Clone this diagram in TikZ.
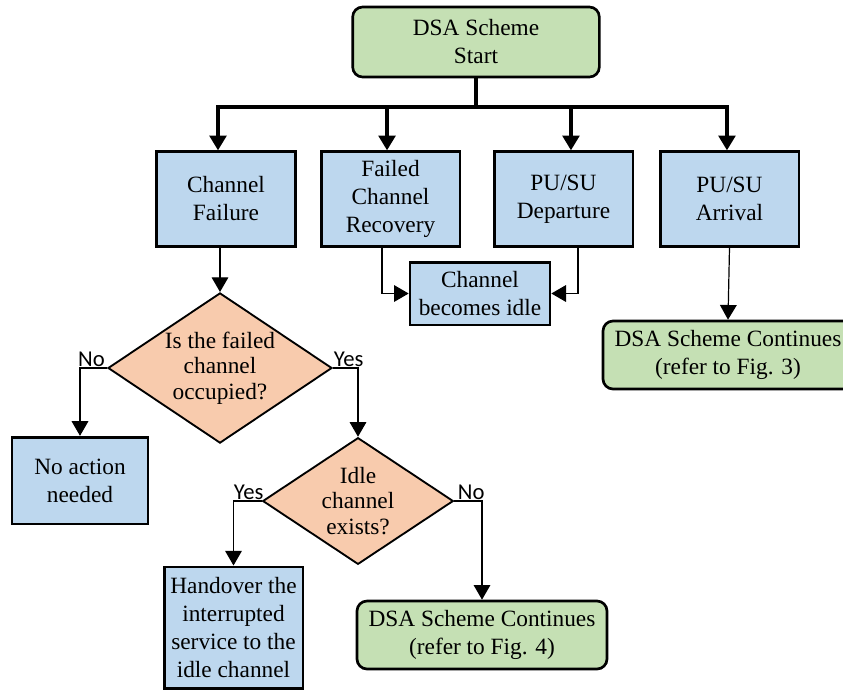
\documentclass[tikz,border=0pt]{standalone}
\usepackage{fontspec}
\setmainfont{Liberation Serif}
\newfontfamily\lblfont{Carlito}
\usepackage{tikz}
\usetikzlibrary{arrows.meta,positioning,calc,shapes.geometric}
\definecolor{dsBlue}{HTML}{BDD7EE}
\definecolor{dsGreen}{HTML}{C5E0B4}
\definecolor{dsPeach}{HTML}{F8CBAD}

\begin{document}
\begin{tikzpicture}[
    x=0.75pt, y=-0.75pt,
    font=\fontsize{17.5}{21}\selectfont,
    evbox/.style={draw=black, line width=2pt, fill=dsBlue, align=center,
                  minimum width=104pt, minimum height=71pt, inner sep=2pt},
    endbox/.style={draw=black, line width=2pt, fill=dsGreen, rounded corners=7.5pt,
                   align=center, minimum width=187.5pt, minimum height=51pt, inner sep=2pt},
    qbox/.style={diamond, draw=black, line width=1.4pt, fill=dsPeach, align=center,
                 inner sep=-6pt, font=\fontsize{17.5}{19}\selectfont},
    yn/.style={font=\lblfont\fontsize{17}{18}\selectfont, inner sep=0.5pt},
    arr/.style={-{Triangle[length=11pt,width=12.5pt]}, line width=0.9pt},
    thkarr/.style={-{Triangle[length=11pt,width=12.5pt]}, line width=2.5pt},
  ]
  \useasboundingbox (0,0) rectangle (843,690);
  % start
  \node[endbox, minimum width=185pt, minimum height=52.5pt] (start) at (476,42) {DSA Scheme\\Start};
  \coordinate (bus) at (476,107);
  % events
  \node[evbox] (fail) at (226,199)   {Channel\\Failure};
  \node[evbox] (recov) at (390.5,199) {Failed\\Channel\\Recovery};
  \node[evbox] (depart) at (563.5,199) {PU/SU\\Departure};
  \node[evbox] (arriv) at (729.5,199) {PU/SU\\Arrival};
  \node[evbox, minimum width=105pt, minimum height=47pt] (idle) at (480,293.5) {Channel\\becomes idle};
  \node[endbox] (cont3) at (728,355) {DSA Scheme Continues\\(refer to Fig. 3)};
  % decisions
  \node[qbox, minimum width=168pt, minimum height=112pt] (occ) at (220,368) {Is the failed\\channel\\occupied?};
  \node[evbox, minimum width=102pt, minimum height=65pt] (noact) at (80,480.5) {No action\\needed};
  \node[qbox, minimum width=143pt, minimum height=95pt] (exist) at (358,501) {Idle\\channel\\exists?};
  \node[evbox, minimum height=91pt] (hand) at (233.5,627.5) {Handover the\\interrupted\\service to the\\idle channel};
  \node[endbox] (cont4) at (482,635) {DSA Scheme Continues\\(refer to Fig. 4)};
  % labels
  \node[yn, anchor=south east] (no1) at ([xshift=-1pt]occ.west) {No};
  \node[yn, anchor=south west] (yes1) at ([xshift=0pt]occ.east) {Yes};
  \node[yn, anchor=south east] (yes2) at ([xshift=2pt]exist.west) {Yes};
  \node[yn, anchor=south west] (no2) at ([xshift=2pt]exist.east) {No};
  % arrows
  \draw[line width=2.5pt] (start.south) -- (bus);
  \draw[thkarr] (bus) -| ([xshift=-6pt]fail.north);
  \draw[thkarr] (bus) -| ([xshift=-2.6pt]recov.north);
  \draw[thkarr] (bus) -| ([xshift=5.6pt]depart.north);
  \draw[thkarr] (bus) -| ([xshift=-1.9pt]arriv.north);
  \draw[arr] (occ.north |- fail.south) -- (occ.north);
  \draw[arr] ([xshift=-6.4pt]recov.south) |- (idle.west);
  \draw[arr] ([xshift=10.9pt]depart.south) |- (idle.east);
  \draw[arr] (arriv.south) -- (cont3.north);
  \draw[arr] (occ.west) -| (noact.north);
  \draw[arr] (occ.east) -| (exist.north);
  \draw[arr] (exist.west) -| (hand.north);
  \draw[arr] (exist.east) -| (cont4.north);
\end{tikzpicture}
\end{document}
